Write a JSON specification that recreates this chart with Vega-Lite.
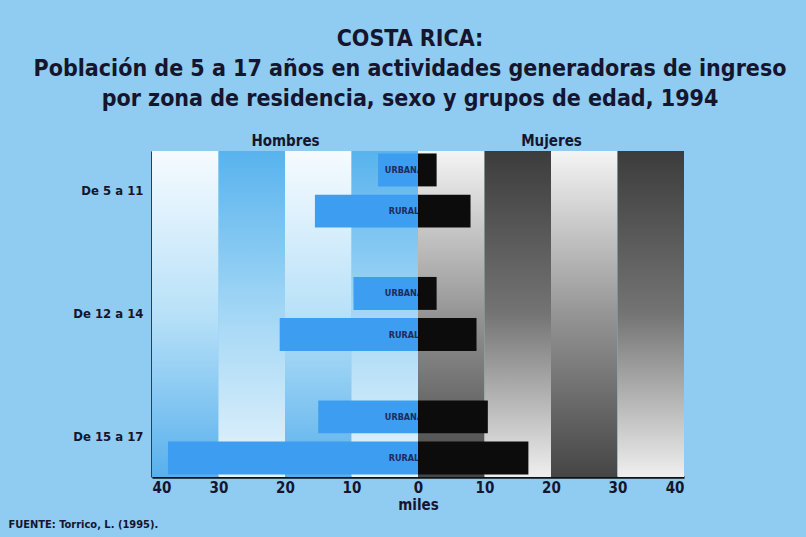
{
  "$schema": "https://vega.github.io/schema/vega-lite/v6.json",
  "width": 532,
  "height": 326,
  "autosize": {"type": "none"},
  "padding": {"left": 152, "top": 151, "right": 122, "bottom": 60},
  "background": "#90cbf1",
  "config": {
    "view": {"stroke": null},
    "font": "DejaVu Sans Condensed",
    "axis": {"labelFont": "DejaVu Sans Condensed", "titleFont": "DejaVu Sans Condensed"}
  },
  "title": {
    "text": ["COSTA RICA:", "Población de 5 a 17 años en actividades generadoras de ingreso", "por zona de residencia, sexo y grupos de edad, 1994"],
    "font": "DejaVu Sans Condensed",
    "fontSize": 23,
    "fontWeight": "bold",
    "lineHeight": 30,
    "color": "#15152e",
    "anchor": "middle",
    "dx": -8,
    "offset": 22
  },
  "datasets": {
    "franjas": [
      {"desde": -40, "hasta": -30, "tipo": "izqA"},
      {"desde": -30, "hasta": -20, "tipo": "izqB"},
      {"desde": -20, "hasta": -10, "tipo": "izqA"},
      {"desde": -10, "hasta": 0, "tipo": "izqB"},
      {"desde": 0, "hasta": 10, "tipo": "derA"},
      {"desde": 10, "hasta": 20, "tipo": "derB"},
      {"desde": 20, "hasta": 30, "tipo": "derA"},
      {"desde": 30, "hasta": 40, "tipo": "derB"}
    ],
    "poblacion": [
      {"grupo": "De 5 a 11", "zona": "URBANA", "sexo": "Hombres", "miles": -6.0},
      {"grupo": "De 5 a 11", "zona": "RURAL", "sexo": "Hombres", "miles": -15.5},
      {"grupo": "De 12 a 14", "zona": "URBANA", "sexo": "Hombres", "miles": -9.7},
      {"grupo": "De 12 a 14", "zona": "RURAL", "sexo": "Hombres", "miles": -20.8},
      {"grupo": "De 15 a 17", "zona": "URBANA", "sexo": "Hombres", "miles": -15.0},
      {"grupo": "De 15 a 17", "zona": "RURAL", "sexo": "Hombres", "miles": -37.6},
      {"grupo": "De 5 a 11", "zona": "URBANA", "sexo": "Mujeres", "miles": 2.8},
      {"grupo": "De 5 a 11", "zona": "RURAL", "sexo": "Mujeres", "miles": 7.9},
      {"grupo": "De 12 a 14", "zona": "URBANA", "sexo": "Mujeres", "miles": 2.8},
      {"grupo": "De 12 a 14", "zona": "RURAL", "sexo": "Mujeres", "miles": 8.8},
      {"grupo": "De 15 a 17", "zona": "URBANA", "sexo": "Mujeres", "miles": 10.5},
      {"grupo": "De 15 a 17", "zona": "RURAL", "sexo": "Mujeres", "miles": 16.6}
    ]
  },
  "resolve": {"axis": {"x": "independent"}},
  "layer": [
    {
      "data": {"name": "franjas"},
      "transform": [{"filter": "datum.tipo == 'izqA'"}],
      "mark": {"type": "rect", "color": {"gradient": "linear", "x1": 0, "y1": 0, "x2": 0, "y2": 1, "stops": [{"offset": 0, "color": "#f6fbff"}, {"offset": 0.5, "color": "#b8e1f8"}, {"offset": 1, "color": "#58b0ec"}]}},
      "encoding": {
        "x": {"field": "desde", "type": "quantitative", "scale": {"domain": [-40, 40], "nice": false, "zero": false},
          "axis": {"orient": "top", "values": [-20, 20], "labelExpr": "datum.value < 0 ? 'Hombres' : 'Mujeres'", "ticks": false, "domain": false, "grid": false, "labelFontSize": 15, "labelFontWeight": "bold", "labelColor": "#15152e", "labelPadding": 3, "title": null}},
        "x2": {"field": "hasta"}
      }
    },
    {
      "data": {"name": "franjas"},
      "transform": [{"filter": "datum.tipo == 'izqB'"}],
      "mark": {"type": "rect", "color": {"gradient": "linear", "x1": 0, "y1": 0, "x2": 0, "y2": 1, "stops": [{"offset": 0, "color": "#58b3ee"}, {"offset": 0.5, "color": "#a3d7f5"}, {"offset": 1, "color": "#e6f4fc"}]}},
      "encoding": {
        "x": {"field": "desde", "type": "quantitative", "axis": null},
        "x2": {"field": "hasta"}
      }
    },
    {
      "data": {"name": "franjas"},
      "transform": [{"filter": "datum.tipo == 'derA'"}],
      "mark": {"type": "rect", "color": {"gradient": "linear", "x1": 0, "y1": 0, "x2": 0, "y2": 1, "stops": [{"offset": 0, "color": "#f4f4f4"}, {"offset": 0.5, "color": "#959595"}, {"offset": 1, "color": "#454545"}]}},
      "encoding": {
        "x": {"field": "desde", "type": "quantitative", "axis": null},
        "x2": {"field": "hasta"}
      }
    },
    {
      "data": {"name": "franjas"},
      "transform": [{"filter": "datum.tipo == 'derB'"}],
      "mark": {"type": "rect", "color": {"gradient": "linear", "x1": 0, "y1": 0, "x2": 0, "y2": 1, "stops": [{"offset": 0, "color": "#3c3c3c"}, {"offset": 0.5, "color": "#747474"}, {"offset": 1, "color": "#efefef"}]}},
      "encoding": {
        "x": {"field": "desde", "type": "quantitative", "axis": null},
        "x2": {"field": "hasta"}
      }
    },
    {
      "data": {"name": "poblacion"},
      "transform": [{"filter": "datum.sexo == 'Hombres'"}],
      "mark": {"type": "bar", "color": "#3d9df0", "stack": null},
      "encoding": {
        "y": {"field": "grupo", "type": "nominal", "sort": ["De 5 a 11", "De 12 a 14", "De 15 a 17"],
          "scale": {"paddingInner": 0.4, "paddingOuter": 0.02},
          "axis": {"title": "FUENTE: Torrico, L. (1995).", "titleAngle": 0, "titleAlign": "left", "titleBaseline": "alphabetic", "titleX": -144, "titleY": 376, "titleFontSize": 11, "titleFontWeight": "bold", "titleColor": "#15152e",
            "labelFontSize": 13, "labelFontWeight": "bold", "labelColor": "#15152e", "labelPadding": 9, "ticks": false, "domainColor": "#111111", "domainWidth": 2.5}},
        "yOffset": {"field": "zona", "type": "nominal", "sort": ["URBANA", "RURAL"], "scale": {"paddingInner": 0.2}},
        "x": {"field": "miles", "type": "quantitative",
          "axis": {"orient": "bottom", "values": [-40, -30, -20, -10, 0, 10, 20, 30, 40], "labelExpr": "abs(datum.value)", "grid": false, "ticks": false, "domainColor": "#111111", "domainWidth": 2.5, "labelFontSize": 15, "labelFontWeight": "bold", "labelColor": "#15152e", "labelPadding": 3, "title": "miles", "titleFontSize": 15, "titleFontWeight": "bold", "titleColor": "#15152e", "titlePadding": 2}}
      }
    },
    {
      "data": {"name": "poblacion"},
      "transform": [{"filter": "datum.sexo == 'Hombres'"}],
      "mark": {"type": "text", "align": "center", "baseline": "middle", "dx": -14, "fontSize": 9, "fontWeight": "bold", "color": "#1c2b5c"},
      "encoding": {
        "y": {"field": "grupo", "type": "nominal", "sort": ["De 5 a 11", "De 12 a 14", "De 15 a 17"]},
        "yOffset": {"field": "zona", "type": "nominal", "sort": ["URBANA", "RURAL"]},
        "x": {"datum": 0, "type": "quantitative", "axis": null},
        "text": {"field": "zona"}
      }
    },
    {
      "data": {"name": "poblacion"},
      "transform": [{"filter": "datum.sexo == 'Mujeres'"}],
      "mark": {"type": "bar", "color": "#0c0c0c", "stack": null},
      "encoding": {
        "y": {"field": "grupo", "type": "nominal", "sort": ["De 5 a 11", "De 12 a 14", "De 15 a 17"]},
        "yOffset": {"field": "zona", "type": "nominal", "sort": ["URBANA", "RURAL"]},
        "x": {"field": "miles", "type": "quantitative", "axis": null}
      }
    }
  ]
}
